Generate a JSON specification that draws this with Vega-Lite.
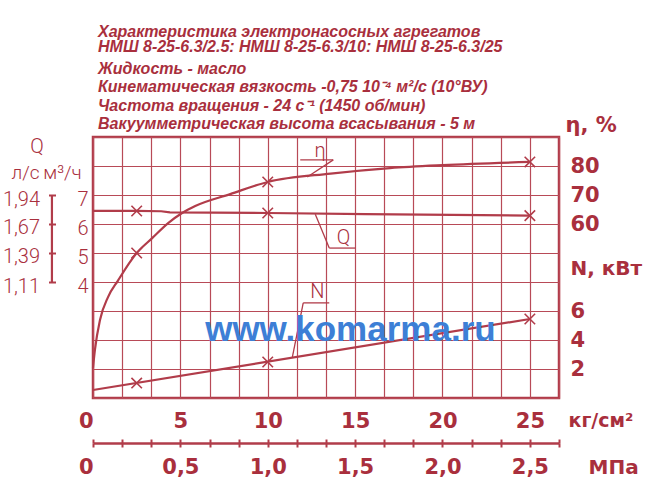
{
  "$schema": "https://vega.github.io/schema/vega-lite/v6.json",
  "width": 466,
  "height": 261,
  "autosize": "none",
  "padding": {"left": 93, "top": 137, "right": 93, "bottom": 84},
  "background": "white",
  "title": {
    "text": ["Характеристика электронасосных агрегатов", "НМШ 8-25-6.3/2.5: НМШ 8-25-6.3/10: НМШ 8-25-6.3/25"],
    "subtitle": ["Жидкость - масло", "Кинематическая вязкость -0,75 10⁻⁴ м²/с (10°ВУ)", "Частота вращения - 24 с⁻¹ (1450 об/мин)", "Вакуумметрическая высота всасывания - 5 м"],
    "anchor": "start",
    "frame": "group",
    "dx": 5,
    "offset": -18,
    "font": "Liberation Sans",
    "fontSize": 16,
    "fontStyle": "italic",
    "fontWeight": "bold",
    "color": "#a92f3d",
    "lineHeight": 15.5,
    "subtitleFont": "Liberation Sans",
    "subtitleFontSize": 16,
    "subtitleFontStyle": "italic",
    "subtitleFontWeight": "bold",
    "subtitleColor": "#a92f3d",
    "subtitleLineHeight": 18.3,
    "subtitlePadding": 6
  },
  "datasets": {
    "q": [
      {"p": 0, "q": 6.45}, {"p": 2.5, "q": 6.45}, {"p": 3.9, "q": 6.44}, {"p": 4.4, "q": 6.4},
      {"p": 10, "q": 6.38}, {"p": 15.6, "q": 6.34}, {"p": 25, "q": 6.29}
    ],
    "eta": [
      {"p": 0, "eta": 10.5}, {"p": 0.11, "eta": 16.6}, {"p": 0.4, "eta": 26.9}, {"p": 0.86, "eta": 34.8},
      {"p": 1.43, "eta": 40.5}, {"p": 2.5, "eta": 50}, {"p": 3.4, "eta": 55.2}, {"p": 4.3, "eta": 60.3},
      {"p": 5.1, "eta": 63.8}, {"p": 5.85, "eta": 66.2}, {"p": 7.85, "eta": 70.3}, {"p": 10, "eta": 74.5},
      {"p": 13.6, "eta": 77.4}, {"p": 17, "eta": 79.3}, {"p": 20, "eta": 80.3}, {"p": 25, "eta": 81.4}
    ],
    "n": [{"p": 0, "n": 0.55}, {"p": 25, "n": 5.45}],
    "pts": [
      {"p": 2.5, "mpa": 0.25, "q": 6.45, "eta": 50, "n": 1.03},
      {"p": 10, "mpa": 1.0, "q": 6.38, "eta": 74.5, "n": 2.48},
      {"p": 25, "mpa": 2.5, "q": 6.29, "eta": 81.4, "n": 5.45}
    ],
    "ls": [{"lo": 1.11, "hi": 1.94}],
    "leaders": [
      {"p1": 11.86, "u1": 8.21, "p2": 13.75, "u2": 8.21},
      {"p1": 13.75, "u1": 8.21, "p2": 12.26, "u2": 7.62},
      {"p1": 12.72, "u1": 6.34, "p2": 13.52, "u2": 5.17},
      {"p1": 13.52, "u1": 5.17, "p2": 15.01, "u2": 5.17},
      {"p1": 12.03, "u1": 3.28, "p2": 13.52, "u2": 3.28},
      {"p1": 12.03, "u1": 3.28, "p2": 11.4, "u2": 1.38}
    ],
    "notes": [
      {"p": 13.0, "u": 8.52, "label": "η"},
      {"p": 14.33, "u": 5.52, "label": "Q"},
      {"p": 12.84, "u": 3.66, "label": "N"},
      {"p": -3.21, "u": 8.66, "label": "Q"}
    ],
    "wm": [{"p": 14.73, "u": 2.34, "label": "www.komarma.ru"}]
  },
  "layer": [
    {
      "data": {"name": "q"},
      "mark": {"type": "line", "color": "#b13c4a", "strokeWidth": 2.2},
      "encoding": {
        "x": {
          "field": "p", "type": "quantitative",
          "scale": {"domain": [0, 26.66667], "nice": false},
          "axis": {
            "values": [0, 1.66667, 3.33333, 5, 6.66667, 8.33333, 10, 11.66667, 13.33333, 15, 16.66667, 18.33333, 20, 21.66667, 23.33333, 25, 26.66667],
            "grid": true, "gridColor": "#b84a57", "gridWidth": 1.2, "gridOpacity": 1,
            "labelExpr": "abs(datum.value / 5 - round(datum.value / 5)) < 0.001 ? format(datum.value, 'd') : ''",
            "labelAlign": {"condition": {"test": "datum.value == 0", "value": "right"}, "value": "center"},
            "labelPadding": 12,
            "title": "кг/см²", "titleX": 475, "titleY": 22, "titleAlign": "left", "titleBaseline": "middle", "titleFontSize": 19
          }
        },
        "y": {
          "field": "q", "type": "quantitative",
          "scale": {"domain": [0, 9], "nice": false},
          "axis": {
            "values": [0, 1, 2, 3, 4, 5, 6, 7, 8, 9],
            "grid": true, "gridColor": "#b84a57", "gridWidth": 1.2, "gridOpacity": 1,
            "labelExpr": "datum.value >= 4 && datum.value <= 7 ? datum.label : ''",
            "labelFont": "Roboto", "labelFontWeight": 300, "labelFontSize": 20,
            "labelPadding": 5, "labelOffset": 4,
            "title": "м³/ч", "titleAngle": 0, "titleX": -31, "titleY": 35, "titleAlign": "center", "titleBaseline": "middle",
            "titleFont": "Roboto", "titleFontWeight": 300, "titleFontSize": 19
          }
        }
      }
    },
    {
      "data": {"name": "pts"},
      "mark": {"type": "point", "shape": "M-1,-1L1,1M-1,1L1,-1", "size": 110, "filled": false, "color": "#b13c4a", "strokeWidth": 1.6, "opacity": 1},
      "encoding": {
        "x": {
          "field": "mpa", "type": "quantitative",
          "scale": {"domain": [0, 2.666667], "nice": false},
          "axis": {
            "orient": "bottom", "offset": 45,
            "values": [0, 0.166667, 0.333333, 0.5, 0.666667, 0.833333, 1, 1.166667, 1.333333, 1.5, 1.666667, 1.833333, 2, 2.166667, 2.333333, 2.5, 2.666667],
            "domain": true, "domainColor": "#b13c4a", "domainWidth": 2.5,
            "ticks": true, "tickColor": "#b13c4a", "tickWidth": 2, "tickSize": 4,
            "labelExpr": "abs(datum.value * 2 - round(datum.value * 2)) < 0.001 ? (datum.value == 0 ? '0' : replace(format(datum.value, '.1f'), '.', ',')) : ''",
            "labelAlign": {"condition": {"test": "datum.value == 0", "value": "right"}, "value": "center"},
            "labelPadding": 9,
            "title": "МПа", "titleX": 495, "titleY": 24, "titleAlign": "left", "titleBaseline": "middle", "titleFontSize": 20
          }
        },
        "y": {"field": "q", "type": "quantitative", "scale": {"domain": [0, 9], "nice": false}, "axis": null}
      }
    },
    {
      "data": {"name": "eta"},
      "mark": {"type": "line", "color": "#b13c4a", "strokeWidth": 2.2, "interpolate": "monotone"},
      "encoding": {
        "x": {"field": "p", "type": "quantitative", "scale": {"domain": [0, 26.66667], "nice": false}, "axis": null},
        "y": {
          "field": "eta", "type": "quantitative",
          "scale": {"domain": [0, 90], "nice": false},
          "axis": {
            "orient": "right", "values": [60, 70, 80],
            "labelPadding": 11, "labelAlign": "left", "labelBaseline": "middle",
            "title": "η, %", "titleAngle": 0, "titleX": 6, "titleY": -12, "titleAlign": "left", "titleBaseline": "middle", "titleFontSize": 21
          }
        }
      }
    },
    {
      "data": {"name": "pts"},
      "mark": {"type": "point", "shape": "M-1,-1L1,1M-1,1L1,-1", "size": 110, "filled": false, "color": "#b13c4a", "strokeWidth": 1.6, "opacity": 1},
      "encoding": {
        "x": {
          "field": "mpa", "type": "quantitative",
          "scale": {"domain": [0, 2.666667], "nice": false},
          "axis": {
            "orient": "bottom", "offset": 45,
            "values": [0, 0.166667, 0.333333, 0.5, 0.666667, 0.833333, 1, 1.166667, 1.333333, 1.5, 1.666667, 1.833333, 2, 2.166667, 2.333333, 2.5, 2.666667],
            "ticks": true, "tickColor": "#b13c4a", "tickWidth": 2, "tickSize": -4,
            "labels": false, "title": null
          }
        },
        "y": {"field": "eta", "type": "quantitative", "scale": {"domain": [0, 90], "nice": false}, "axis": null}
      }
    },
    {
      "data": {"name": "n"},
      "mark": {"type": "line", "color": "#b13c4a", "strokeWidth": 2.2},
      "encoding": {
        "x": {"field": "p", "type": "quantitative", "scale": {"domain": [0, 26.66667], "nice": false}, "axis": null},
        "y": {
          "field": "n", "type": "quantitative",
          "scale": {"domain": [0, 18], "nice": false},
          "axis": {
            "orient": "right", "values": [2, 4, 6],
            "labelPadding": 11, "labelAlign": "left", "labelBaseline": "middle",
            "title": "N, кВт", "titleAngle": 0, "titleX": 11, "titleY": 131, "titleAlign": "left", "titleBaseline": "middle", "titleFontSize": 20
          }
        }
      }
    },
    {
      "data": {"name": "pts"},
      "mark": {"type": "point", "shape": "M-1,-1L1,1M-1,1L1,-1", "size": 110, "filled": false, "color": "#b13c4a", "strokeWidth": 1.6, "opacity": 1},
      "encoding": {
        "x": {"field": "p", "type": "quantitative", "scale": {"domain": [0, 26.66667], "nice": false}, "axis": null},
        "y": {"field": "n", "type": "quantitative", "scale": {"domain": [0, 18], "nice": false}, "axis": null}
      }
    },
    {
      "data": {"name": "ls"},
      "mark": {"type": "rule", "color": "#b13c4a", "strokeWidth": 2.2},
      "encoding": {
        "x": {"datum": -2.35, "type": "quantitative", "scale": {"domain": [0, 26.66667], "nice": false}, "axis": null},
        "y": {
          "field": "lo", "type": "quantitative",
          "scale": {"domain": [0, 2.5], "nice": false},
          "axis": {
            "orient": "left", "offset": 37.5,
            "values": [1.11, 1.39, 1.67, 1.94],
            "ticks": true, "tickColor": "#b13c4a", "tickWidth": 2, "tickSize": 7,
            "labelExpr": "replace(format(datum.value, '.2f'), '.', ',')",
            "labelFont": "Roboto", "labelFontWeight": 300, "labelFontSize": 20,
            "labelPadding": 9, "labelOffset": 4,
            "title": "л/с", "titleAngle": 0, "titleX": -30.5, "titleY": 35, "titleAlign": "center", "titleBaseline": "middle",
            "titleFont": "Roboto", "titleFontWeight": 300, "titleFontSize": 19
          }
        },
        "y2": {"field": "hi"}
      }
    },
    {
      "data": {"name": "leaders"},
      "mark": {"type": "rule", "color": "#b13c4a", "strokeWidth": 1.3},
      "encoding": {
        "x": {"field": "p1", "type": "quantitative", "scale": {"domain": [0, 26.66667], "nice": false}, "axis": null},
        "y": {"field": "u1", "type": "quantitative", "scale": {"domain": [0, 9], "nice": false}, "axis": null},
        "x2": {"field": "p2"},
        "y2": {"field": "u2"}
      }
    },
    {
      "data": {"name": "notes"},
      "mark": {"type": "text", "font": "Roboto", "fontWeight": 300, "fontSize": 20, "color": "#a92f3d", "baseline": "middle", "align": "center"},
      "encoding": {
        "x": {"field": "p", "type": "quantitative", "scale": {"domain": [0, 26.66667], "nice": false}, "axis": null},
        "y": {"field": "u", "type": "quantitative", "scale": {"domain": [0, 9], "nice": false}, "axis": null},
        "text": {"field": "label"}
      }
    },
    {
      "data": {"name": "wm"},
      "mark": {"type": "text", "font": "Liberation Sans", "fontWeight": "bold", "fontSize": 35, "color": "#3d7fd6", "baseline": "middle", "align": "center"},
      "encoding": {
        "x": {"field": "p", "type": "quantitative", "scale": {"domain": [0, 26.66667], "nice": false}, "axis": null},
        "y": {"field": "u", "type": "quantitative", "scale": {"domain": [0, 9], "nice": false}, "axis": null},
        "text": {"field": "label"}
      }
    }
  ],
  "resolve": {"scale": {"x": "independent", "y": "independent"}},
  "config": {
    "view": {"stroke": "#b13c4a", "strokeWidth": 2.5},
    "axis": {
      "grid": false,
      "ticks": false,
      "domain": false,
      "labelFont": "DejaVu Sans",
      "labelFontWeight": "bold",
      "labelFontSize": 21,
      "labelColor": "#a92f3d",
      "labelFlush": false,
      "labelOverlap": false,
      "labelAngle": 0,
      "titleFont": "DejaVu Sans",
      "titleFontWeight": "bold",
      "titleColor": "#a92f3d"
    }
  }
}
